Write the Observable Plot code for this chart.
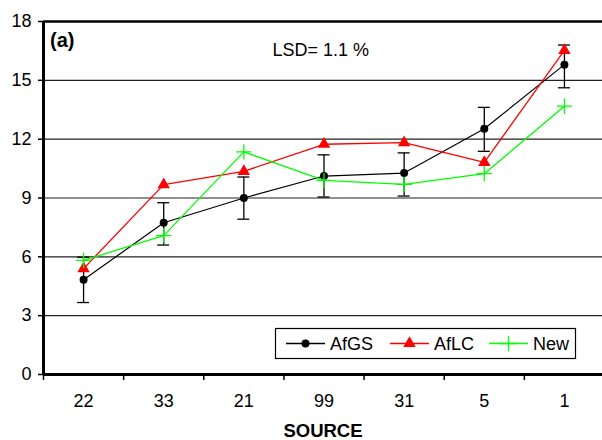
<!DOCTYPE html>
<html><head><meta charset="utf-8">
<script src="https://cdn.jsdelivr.net/npm/d3@7"></script>
<script src="https://cdn.jsdelivr.net/npm/@observablehq/plot@0.6"></script>
<style>body{margin:0;background:#fff}</style>
</head><body><div id="chart"></div>
<script>
const sources = ["22", "33", "21", "99", "31", "5", "1"];
const seriesNames = ["AfGS", "AfLC", "New"];
const afgs = [4.83, 7.74, 9.0, 10.12, 10.27, 12.53, 15.8];
const afgsLow = [3.67, 6.6, 7.92, 9.05, 9.1, 11.38, 14.62];
const afgsHigh = [5.98, 8.76, 10.07, 11.2, 11.3, 13.62, 16.8];
const aflc = [5.4, 9.68, 10.36, 11.74, 11.82, 10.82, 16.53];
const newSeries = [5.82, 7.08, 11.35, 9.9, 9.69, 10.24, 13.68];
const yTicks = [0, 3, 6, 9, 12, 15, 18];
const lsdLabel = "LSD= 1.1 %";
const panelLabel = "(a)";
const xTitle = "SOURCE";

const idx = sources.map((_, i) => i);
const bounds = d3.range(sources.length + 1).map(i => i - 0.5);
const FONT = "Liberation Sans, Arial, Helvetica, sans-serif";
const GREEN = "#00ff00";
const RED = "#ff0000";

const plot = Plot.plot({
  width: 602, height: 440,
  marginLeft: 43, marginRight: 0, marginTop: 21, marginBottom: 66,
  style: {fontFamily: FONT, fontSize: "18px", background: "white", color: "black"},
  x: {domain: [-0.5, sources.length - 0.5], range: [43, 604]},
  y: {domain: [0, 18]},
  marks: [
    Plot.ruleY(yTicks.slice(1, -1), {stroke: "#222", strokeWidth: 1.2}),
    Plot.ruleY([18], {stroke: "black", strokeWidth: 2.5}),
    Plot.ruleY([0], {stroke: "black", strokeWidth: 3}),
    Plot.ruleX([-0.5], {stroke: "black", strokeWidth: 3}),
    Plot.axisY({ticks: yTicks, tickSize: 5, tickPadding: 7, label: null, strokeWidth: 1.5}),
    Plot.axisX({ticks: bounds, tickFormat: () => "", tickSize: 6, label: null, strokeWidth: 1.5}),
    Plot.axisX({ticks: idx, tickFormat: i => sources[i], tickSize: 0, tickPadding: 20, label: null}),
    // AfGS
    Plot.line(idx, {x: i => i, y: i => afgs[i], stroke: "black", strokeWidth: 1.2}),
    Plot.ruleX(idx, {x: i => i, y1: i => afgsLow[i], y2: i => afgsHigh[i], stroke: "black", strokeWidth: 1.3}),
    Plot.ruleY(idx, {x1: i => i, x2: i => i, y: i => afgsLow[i], insetLeft: -6, insetRight: -6, stroke: "black", strokeWidth: 1.3}),
    Plot.ruleY(idx, {x1: i => i, x2: i => i, y: i => afgsHigh[i], insetLeft: -6, insetRight: -6, stroke: "black", strokeWidth: 1.3}),
    Plot.dot(idx, {x: i => i, y: i => afgs[i], r: 4, fill: "black"}),
    // AfLC
    Plot.line(idx, {x: i => i, y: i => aflc[i], stroke: RED, strokeWidth: 1.3}),
    Plot.dot(idx, {x: i => i, y: i => aflc[i], symbol: "triangle", r: 4.6, fill: RED}),
    // New
    Plot.line(idx, {x: i => i, y: i => newSeries[i], stroke: GREEN, strokeWidth: 1.3}),
    Plot.dot(idx, {x: i => i, y: i => newSeries[i], symbol: "plus", r: 5, stroke: GREEN, strokeWidth: 1.3}),
    // texts
    Plot.text([panelLabel], {frameAnchor: "top-left", lineAnchor: "middle", textAnchor: "start", dx: 6.5, dy: 19, fontWeight: "bold", fontSize: 20, fill: "black"}),
    Plot.text([lsdLabel], {frameAnchor: "top-left", lineAnchor: "middle", textAnchor: "start", dx: 229, dy: 29, fontSize: 18, fill: "black"}),
    Plot.text([xTitle], {frameAnchor: "bottom", lineAnchor: "middle", dy: 57, fontWeight: "bold", fontSize: 18.5, fill: "black"})
  ]
});
document.getElementById("chart").appendChild(plot);

// Legend (inside the plot area, as in the reference)
const svg = d3.select(plot);
const lg = svg.append("g").attr("transform", "translate(275,328)")
  .style("font-family", FONT).style("font-size", "18px").attr("text-anchor", "start");
lg.append("rect").attr("x", 0.5).attr("y", 0.5).attr("width", 300).attr("height", 30)
  .attr("fill", "white").attr("stroke", "black").attr("stroke-width", 1.2);
const legendItems = [
  {name: seriesNames[0], color: "black", symbol: d3.symbolCircle, r: 4, fill: true, x0: 11},
  {name: seriesNames[1], color: RED, symbol: d3.symbolTriangle, r: 4.6, fill: true, x0: 115},
  {name: seriesNames[2], color: GREEN, symbol: d3.symbolPlus, r: 5, fill: false, x0: 214}
];
for (const it of legendItems) {
  const g = lg.append("g").attr("transform", `translate(${it.x0},0)`);
  g.append("line").attr("x1", 0).attr("x2", 39).attr("y1", 15.5).attr("y2", 15.5)
    .attr("stroke", it.color).attr("stroke-width", 1.3);
  g.append("path").attr("transform", "translate(19.5,15.5)")
    .attr("d", d3.symbol(it.symbol, it.r * it.r * Math.PI)())
    .attr("fill", it.fill ? it.color : "none")
    .attr("stroke", it.fill ? "none" : it.color).attr("stroke-width", 1.3);
  g.append("text").attr("x", 44).attr("y", 21.5).attr("text-anchor", "start").attr("fill", "black").text(it.name);
}
</script>
</body></html>
